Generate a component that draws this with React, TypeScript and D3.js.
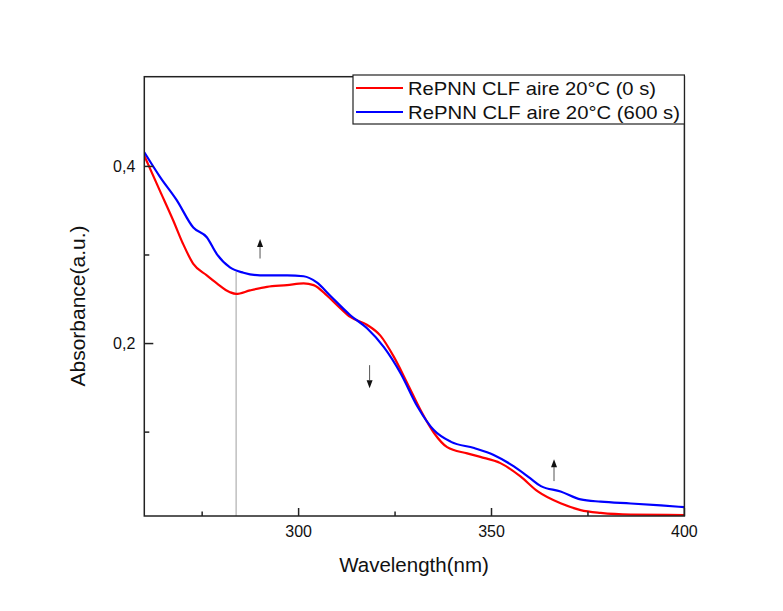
import React from "react";
import * as d3 from "d3";

const redWl = [260, 264, 267.5, 270, 272.7, 276.2, 278.8, 282.2, 283.8, 287.4, 291.8, 297, 301.3, 303.9, 307.4, 310.8, 313.4, 317.8, 321.2, 324.7, 328.2, 331.6, 335.1, 338.5, 343.7, 347.1, 352.3, 357.5, 362, 367.9, 373.1, 378.3, 386.1, 400];
const redAbs = [0.412, 0.373, 0.339, 0.313, 0.29, 0.277, 0.268, 0.258, 0.256, 0.26, 0.264, 0.266, 0.268, 0.266, 0.254, 0.24, 0.23, 0.221, 0.209, 0.185, 0.155, 0.125, 0.099, 0.083, 0.076, 0.072, 0.065, 0.05, 0.033, 0.0196, 0.012, 0.0088, 0.0069, 0.0064];

const blueWl = [260, 264.1, 268.4, 272.7, 276.2, 278.8, 282.2, 285.7, 290, 297, 301.3, 304.7, 308.2, 313.4, 317.8, 322.1, 326.5, 330.8, 335.1, 339.5, 345.5, 350.7, 355.9, 360, 362.8, 367.9, 373.1, 378.3, 386.1, 393.9, 400];
const blueAbs = [0.416, 0.388, 0.362, 0.331, 0.32, 0.301, 0.286, 0.28, 0.277, 0.277, 0.276, 0.269, 0.254, 0.232, 0.217, 0.196, 0.166, 0.129, 0.102, 0.089, 0.082, 0.074, 0.061, 0.048, 0.039, 0.033, 0.024, 0.0215, 0.0194, 0.0172, 0.0153];

const seriesNames = ["RePNN CLF aire 20°C (0 s)", "RePNN CLF aire 20°C (600 s)"];
const seriesColors = ["#ff0000", "#0000ff"];
const legendTextWidths = [248, 272];

const xMajorTicks = [300, 350, 400];
const xMinorTicks = [275, 325, 375];
const yMajorTicks = [0.2, 0.4];
const yMinorTicks = [0.1, 0.3];

const arrowWl = [290, 318.4, 366.2];
const arrowFrom = [0.296, 0.1756, 0.0447];
const arrowTo = [0.318, 0.1496, 0.0695];

const markerWl = 283.8;
const markerTop = 0.281;

const W = 783, H = 611;
const left = 144.3, right = 684.4, top = 76.7, bottom = 516;

export default function App() {
  const x = d3.scaleLinear().domain([260, 400]).range([left, right]);
  const y = d3.scaleLinear().domain([0.0053, 0.5013]).range([bottom, top]);
  const line = d3
    .line<[number, number]>()
    .x((d) => x(d[0]))
    .y((d) => y(d[1]))
    .curve(d3.curveMonotoneX);
  const red: [number, number][] = redWl.map((w, i) => [w, redAbs[i]]);
  const blue: [number, number][] = blueWl.map((w, i) => [w, blueAbs[i]]);
  const font = "Arial, 'Liberation Sans', sans-serif";
  const axisColor = "#222";

  return (
    <svg width={W} height={H} style={{ position: "absolute", left: 0, top: 0, background: "#fff" }} fontFamily={font}>
      <rect x={0} y={0} width={W} height={H} fill="#fff" />
      <defs>
        <clipPath id="plotclip">
          <rect x={left} y={top} width={right - left} height={bottom - top} />
        </clipPath>
      </defs>
      {/* marker line */}
      <line x1={x(markerWl)} x2={x(markerWl)} y1={y(markerTop)} y2={bottom} stroke="#b0b0b0" strokeWidth={1.2} />
      <g clipPath="url(#plotclip)">
        <path d={line(red) || ""} fill="none" stroke={seriesColors[0]} strokeWidth={2.2} />
        <path d={line(blue) || ""} fill="none" stroke={seriesColors[1]} strokeWidth={2.2} />
      </g>
      {/* arrows */}
      {arrowWl.map((w, i) => {
        const x0 = x(w);
        const y0 = y(arrowFrom[i]);
        const y1 = y(arrowTo[i]);
        const dir = y1 < y0 ? -1 : 1;
        const headLen = 8;
        const baseY = y1 - dir * headLen;
        return (
          <g key={i}>
            <line x1={x0} x2={x0} y1={y0} y2={baseY} stroke="#555" strokeWidth={1} />
            <path d={`M${x0},${y1} L${x0 - 3},${baseY} L${x0 + 3},${baseY} Z`} fill="#111" />
          </g>
        );
      })}
      {/* frame */}
      <rect x={left} y={top} width={right - left} height={bottom - top} fill="none" stroke={axisColor} strokeWidth={1.5} />
      {/* x ticks */}
      {xMajorTicks.map((t) => (
        <g key={"xM" + t}>
          <line x1={x(t)} x2={x(t)} y1={bottom} y2={bottom - 8} stroke={axisColor} strokeWidth={1.5} />
          <text x={x(t)} y={bottom + 21} textAnchor="middle" fontSize={16} fill="#111">{t}</text>
        </g>
      ))}
      {xMinorTicks.map((t) => (
        <line key={"xm" + t} x1={x(t)} x2={x(t)} y1={bottom} y2={bottom - 4.5} stroke={axisColor} strokeWidth={1.5} />
      ))}
      {/* y ticks */}
      {yMajorTicks.map((t) => (
        <g key={"yM" + t}>
          <line x1={left} x2={left + 9} y1={y(t)} y2={y(t)} stroke={axisColor} strokeWidth={1.5} />
          <text x={left - 9} y={y(t)} dy="0.35em" textAnchor="end" fontSize={16} fill="#111">
            {d3.format(".1f")(t).replace(".", ",")}
          </text>
        </g>
      ))}
      {yMinorTicks.map((t) => (
        <line key={"ym" + t} x1={left} x2={left + 5} y1={y(t)} y2={y(t)} stroke={axisColor} strokeWidth={1.5} />
      ))}
      {/* axis titles */}
      <text x={414} y={572} textAnchor="middle" fontSize={20.5} fill="#111">Wavelength(nm)</text>
      <text transform={`translate(84.5,306) rotate(-90)`} textAnchor="middle" fontSize={21} fill="#111">Absorbance(a.u.)</text>
      {/* legend */}
      <rect x={353} y={75} width={right - 353} height={49} fill="#fff" stroke={axisColor} strokeWidth={1.2} />
      {seriesNames.map((n, i) => (
        <g key={n}>
          <line x1={356} x2={403} y1={88 + i * 24} y2={88 + i * 24} stroke={seriesColors[i]} strokeWidth={2.2} />
          <text x={408} y={88 + i * 24} dy="0.36em" fontSize={18.5} fill="#111" textLength={legendTextWidths[i]} lengthAdjust="spacingAndGlyphs">{n}</text>
        </g>
      ))}
    </svg>
  );
}
